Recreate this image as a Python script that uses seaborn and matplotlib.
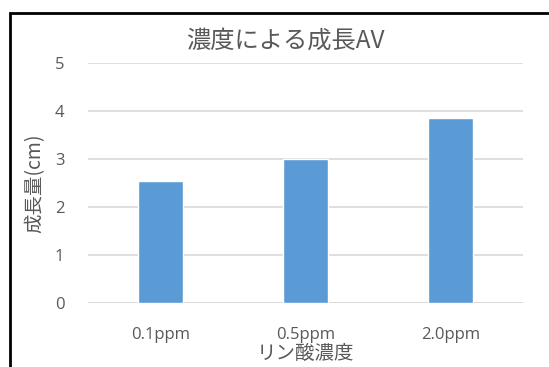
import matplotlib
matplotlib.use("Agg")
import matplotlib.pyplot as plt
import seaborn as sns
import pandas as pd
from matplotlib.patches import Rectangle

# データ
concentrations = ["0.1ppm", "0.5ppm", "2.0ppm"]
growth = [2.54, 2.99, 3.85]
yticks = [0, 1, 2, 3, 4, 5]

title = "濃度による成長AV"
xlabel = "リン酸濃度"
ylabel = "成長量(cm)"

sns.set_theme(style="white")
plt.rcParams['font.family'] = ['Noto Sans CJK JP', 'DejaVu Sans']

W, H = 549, 367
fig = plt.figure(figsize=(W / 100, H / 100), dpi=100)
ax = fig.add_axes([88 / W, 1 - 303 / H, 435 / W, 240 / H])

df = pd.DataFrame({"conc": concentrations, "growth": growth})
sns.barplot(data=df, x="conc", y="growth", color="#5B9BD5", saturation=1,
            width=0.31, ax=ax)

ax.set_ylim(0, 5)
ax.set_yticks(yticks)
ax.set_xlim(-0.5, 2.5)
ax.yaxis.grid(True, color="#D9D9D9", linewidth=1.2)
ax.set_axisbelow(True)
for s in ax.spines.values():
    s.set_visible(False)
ax.axhline(0, color="#D9D9D9", linewidth=1.2, zorder=0.5)

gray = "#595959"
ax.tick_params(axis="both", length=0, colors=gray, labelsize=12)
ax.tick_params(axis="y", pad=17)
ax.tick_params(axis="x", pad=17)
for lab in ax.get_xticklabels() + ax.get_yticklabels():
    lab.set_family(['Open Sans', 'Noto Sans CJK JP'])
ax.set_xlabel(xlabel, fontsize=14, color=gray, labelpad=0)
ax.set_ylabel(ylabel, fontsize=14, color=gray, labelpad=7)

fig.text(285 / W, 1 - 41 / H, title, fontsize=17.5, color=gray,
         ha="center", va="center")

# 外枠
fig.patches.append(Rectangle((10 / W, -0.1), 1.2, 1 - 13 / H + 0.1,
                             transform=fig.transFigure, fill=False,
                             edgecolor="black", linewidth=2, clip_on=False))

fig.savefig("out.png", dpi=100)
